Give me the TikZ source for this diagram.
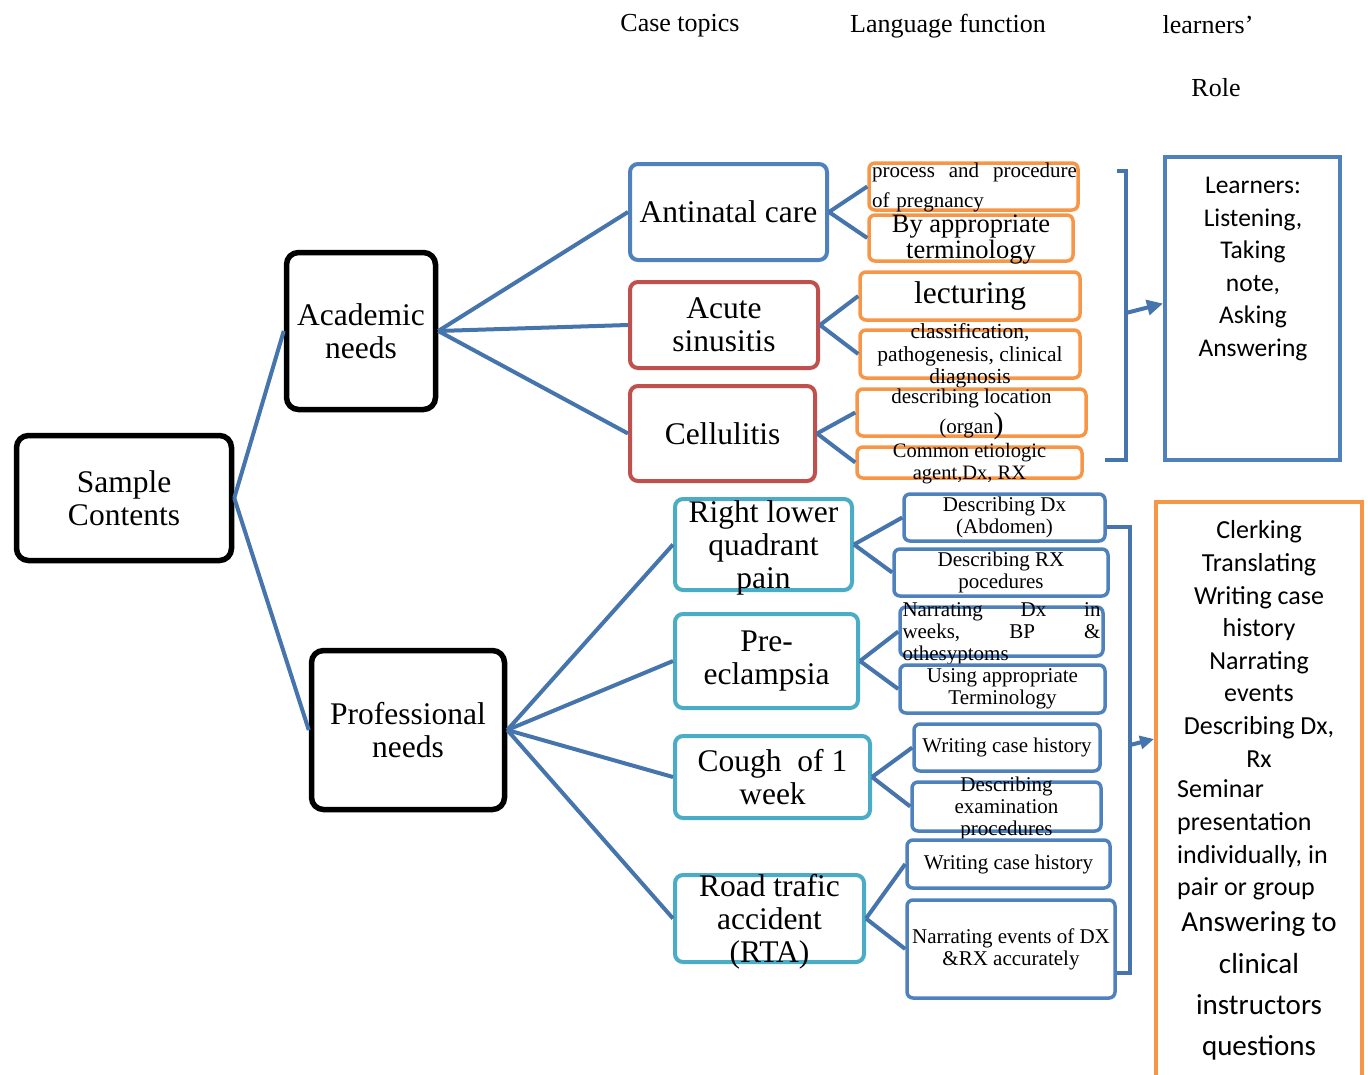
\documentclass[tikz,border=0pt]{standalone}
\usepackage{fontspec}
\setmainfont{Liberation Serif}
\newfontfamily\calibrifont{Carlito}
\usetikzlibrary{arrows.meta}
\definecolor{lineblue}{HTML}{4674AC}
\definecolor{boxblue}{HTML}{4F81BD}
\definecolor{boxred}{HTML}{C0504D}
\definecolor{boxcyan}{HTML}{4BACC6}
\definecolor{boxorange}{HTML}{F79646}
\tikzset{
  mainbox/.style={draw=black, line width=5.5pt, rounded corners=12pt, inner sep=0pt, align=center, font=\fontsize{31.5}{33}\selectfont},
  topic/.style={line width=4pt, rounded corners=8pt, inner sep=0pt, align=center, font=\fontsize{31.5}{33}\selectfont},
  funcbox/.style={line width=3.5pt, rounded corners=6pt, inner sep=0pt, align=center, font=\fontsize{21}{22}\selectfont},
  ftext/.style={inner sep=0pt, align=center, font=\fontsize{21}{22}\selectfont},
  rolebox/.style={line width=4pt, inner sep=0pt},
  roletext/.style={inner sep=0pt, align=center, font=\calibrifont\fontsize{26}{32.6}\selectfont},
  conn/.style={draw=lineblue, line width=4pt},
  heading/.style={inner sep=0pt, font=\fontsize{26}{30}\selectfont},
}
\begin{document}
\begin{tikzpicture}[x=1pt, y=-1pt]
  \useasboundingbox (0,0) rectangle (1368,1074);
  % headings
  \node [heading] (h1) at (680,26) {Case topics};
  \node [heading] (h2) at (948,26) {Language function};
  \node [heading] (h3) at (1208,25) {learners’};
  \node [heading] (h4) at (1216,88) {Role};
  % needs
  \node [mainbox, minimum width=215, minimum height=125] (sc) at (124,498) {Sample\\Contents};
  \node [mainbox, minimum width=149, minimum height=157] (an) at (361,331) {Academic\\needs};
  \node [mainbox, minimum width=193, minimum height=159] (pn) at (408,730) {Professional\\needs};
  % case topics
  \node [topic, draw=boxblue, minimum width=197, minimum height=96] (anc) at (728.5,212) {Antinatal care};
  \node [topic, draw=boxred, minimum width=188, minimum height=86] (sin) at (724,325) {Acute\\sinusitis};
  \node [topic, draw=boxred, minimum width=185, minimum height=95] (cel) at (722.5,433.5) {Cellulitis};
  \node [topic, draw=boxcyan, minimum width=177, minimum height=91] (rlq) at (763.5,544.5) {};
  \node [topic] (rlq-t) at (763.5,547.5) {Right lower\\quadrant\\pain};
  \node [topic, draw=boxcyan, minimum width=183, minimum height=94] (pre) at (766.5,661) {Pre-\\eclampsia};
  \node [topic, draw=boxcyan, minimum width=195, minimum height=82] (cou) at (772.5,777) {Cough\ \ of 1\\week};
  \node [topic, draw=boxcyan, minimum width=189, minimum height=87] (rta) at (769.5,918.5) {};
  \node [topic] (rta-t) at (769.5,921.5) {Road trafic\\accident\\(RTA)};
  % language functions, academic
  \node [funcbox, draw=boxorange, minimum width=209, minimum height=47] (f1) at (973.5,186.5) {};
  \node [ftext, align=left, text width=205, font=\fontsize{21}{30}\selectfont] (f1-t) at (974.5,187.5) {process\hfill and\hfill procedure\\of pregnancy};
  \node [funcbox, draw=boxorange, minimum width=204, minimum height=46] (f2) at (971,238) {};
  \node [ftext, font=\fontsize{26.5}{26}\selectfont] (f2-t) at (971,240) {By appropriate\\terminology};
  \node [funcbox, draw=boxorange, minimum width=220, minimum height=48, font=\fontsize{31.5}{33}\selectfont] (f3) at (970,296) {lecturing};
  \node [funcbox, draw=boxorange, minimum width=220, minimum height=48] (f4) at (970,354) {};
  \node [ftext, font=\fontsize{21.5}{22.5}\selectfont] (f4-t) at (970,356) {classification,\\pathogenesis, clinical\\diagnosis};
  \node [funcbox, draw=boxorange, minimum width=229, minimum height=47] (f5) at (971.5,412.5) {};
  \node [ftext, font=\fontsize{21}{30}\selectfont] (f5-t) at (971.5,414) {describing location\\(organ{\fontsize{30}{30}\selectfont)}};
  \node [funcbox, draw=boxorange, minimum width=225, minimum height=31] (f6) at (969.5,462.5) {};
  \node [ftext, font=\fontsize{20.5}{22}\selectfont] (f6-t) at (969.5,464) {Common etiologic\\agent,Dx, RX};
  % language functions, professional
  \node [funcbox, draw=boxblue, minimum width=201, minimum height=47] (g1) at (1004.5,517.5) {Describing Dx\\(Abdomen)};
  \node [funcbox, draw=boxblue, minimum width=214, minimum height=47] (g2) at (1001,572.5) {Describing RX\\pocedures};
  \node [funcbox, draw=boxblue, minimum width=203, minimum height=49] (g3) at (1001.5,631.5) {};
  \node [ftext, align=left, text width=198] (g3-t) at (1001.5,633.5) {Narrating\hfill Dx\hfill in\\weeks,\hfill BP\hfill \&\\othesyptoms};
  \node [funcbox, draw=boxblue, minimum width=205, minimum height=48] (g4) at (1002.5,689) {Using appropriate\\Terminology};
  \node [funcbox, draw=boxblue, minimum width=186, minimum height=47] (g5) at (1007,747.5) {Writing case history};
  \node [funcbox, draw=boxblue, minimum width=189, minimum height=49] (g6) at (1006.5,806.5) {};
  \node [ftext] (g6-t) at (1006.5,808.5) {Describing\\examination\\procedures};
  \node [funcbox, draw=boxblue, minimum width=203, minimum height=48] (g7) at (1008.5,864) {Writing case history};
  \node [funcbox, draw=boxblue, minimum width=208, minimum height=98] (g8) at (1011,949) {Narrating events of DX\\\&RX accurately};
  % learners' role
  \node [rolebox, draw=boxblue, minimum width=175, minimum height=303] (lr) at (1252.5,308.5) {};
  \node [roletext, font=\calibrifont\fontsize{25.5}{32.6}\selectfont] (lr-t) at (1253,269) {Learners:\\Listening,\\Taking\\note,\\Asking\\Answering};
  \node [rolebox, draw=boxorange, anchor=north, minimum width=206, minimum height=590] (rr) at (1259,500) {};
  \node [roletext] (rr-t1) at (1259,644) {Clerking\\Translating\\Writing case\\history\\Narrating\\events\\Describing Dx,\\Rx};
  \node [roletext, align=left, anchor=west] (rr-t2) at (1177,840) {Seminar\\presentation\\individually, in\\pair or group};
  \node [roletext, font=\calibrifont\fontsize{29}{41.3}\selectfont] (rr-t3) at (1259,986) {Answering to\\clinical\\instructors\\questions};
  % connectors
  \draw [conn] (sc.east) -- (an.west);
  \draw [conn] (sc.east) -- (pn.west);
  \draw [conn] (an.east) -- (anc.west);
  \draw [conn] (an.east) -- (sin.west);
  \draw [conn] (an.east) -- (cel.west);
  \draw [conn] (pn.east) -- (rlq.west);
  \draw [conn] (pn.east) -- (pre.west);
  \draw [conn] (pn.east) -- (cou.west);
  \draw [conn] (pn.east) -- (rta.west);
  \draw [conn] (anc.east) -- (f1.west);
  \draw [conn] (anc.east) -- (f2.west);
  \draw [conn] (sin.east) -- (f3.west);
  \draw [conn] (sin.east) -- (f4.west);
  \draw [conn] (cel.east) -- (f5.west);
  \draw [conn] (cel.east) -- (f6.west);
  \draw [conn] (rlq.east) -- (g1.west);
  \draw [conn] (rlq.east) -- (g2.west);
  \draw [conn] (pre.east) -- (g3.west);
  \draw [conn] (pre.east) -- (g4.west);
  \draw [conn] (cou.east) -- (g5.west);
  \draw [conn] (cou.east) -- (g6.west);
  \draw [conn] (rta.east) -- (g7.west);
  \draw [conn] (rta.east) -- (g8.west);
  % brackets
  \coordinate (br1a) at (1117,171);
  \coordinate (br1b) at (1126,171);
  \coordinate (br1c) at (1126,460);
  \coordinate (br1d) at (1105,460);
  \coordinate (br1m) at (1126,313);
  \draw [conn, line width=3.5pt] (br1a) -- (br1b) -- (br1c) -- (br1d);
  \draw [conn, -{Triangle[length=16pt, width=15pt]}] (br1m) -- ([yshift=5pt]lr.west);
  \coordinate (br2b) at (1130,527);
  \coordinate (br2c) at (1130,973);
  \coordinate (br2m) at (1130,745);
  \draw [conn, line width=3.5pt] (g1.east |- br2b) -- (br2b) -- (br2c) -- (g8.east |- br2c);
  \draw [conn, -{Triangle[length=14pt, width=13pt]}] (br2m) -- ([yshift=58pt]rr.west);
\end{tikzpicture}
\end{document}
